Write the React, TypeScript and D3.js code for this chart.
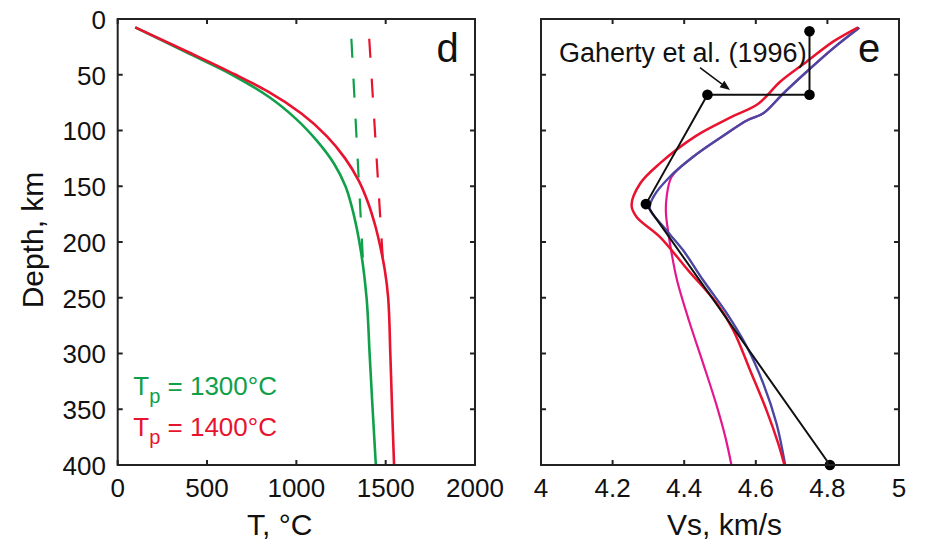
import React from "react";
import * as d3 from "d3";

// ---------- data ----------
const tempTicks = [0, 500, 1000, 1500, 2000];
const depthTicks = [0, 50, 100, 150, 200, 250, 300, 350, 400];
const vsTicks = [4, 4.2, 4.4, 4.6, 4.8, 5];
const vsTickLabels = ["4", "4.2", "4.4", "4.6", "4.8", "5"];

// geotherms: [T (°C), depth (km)]
const geothermTp1300: [number, number][] = [
  [98, 7.5], [385, 30], [640, 50], [847, 70], [1001, 90], [1119, 110], [1212, 130],
  [1275, 150], [1313, 170], [1341, 190], [1363, 210], [1393, 250], [1410, 300],
  [1427, 350], [1445, 400],
];
const geothermTp1400: [number, number][] = [
  [98, 7.5], [400, 30], [661, 50], [840, 65], [1030, 85], [1170, 105], [1273, 125],
  [1349, 145], [1402, 165], [1441, 185], [1471, 205], [1495, 225], [1514, 250],
  [1526, 300], [1536, 350], [1547, 400],
];
// adiabats (dashed)
const adiabat1300: [number, number][] = [[1308, 17.7], [1375, 223]];
const adiabat1400: [number, number][] = [[1408, 17.7], [1487, 223]];

// Vs profiles: [Vs (km/s), depth (km)]
const vsRed: [number, number][] = [
  [4.886, 7.5], [4.816, 20.3], [4.742, 38.3], [4.668, 56.3], [4.607, 76], [4.528, 88.5],
  [4.432, 105], [4.332, 129.5], [4.277, 147.5], [4.253, 167], [4.267, 177.5], [4.332, 195.4],
  [4.41, 225], [4.491, 255], [4.537, 279], [4.584, 315], [4.63, 351], [4.663, 381], [4.68, 400],
];
const vsBlue: [number, number][] = [
  [4.889, 7.8], [4.816, 26.3], [4.742, 47.3], [4.677, 66.7], [4.621, 84.6], [4.575, 91],
  [4.508, 105], [4.425, 123.6], [4.36, 141.5], [4.314, 159.5], [4.304, 170], [4.342, 186.4],
  [4.397, 207.4], [4.453, 234.3], [4.519, 264], [4.575, 294], [4.621, 327], [4.658, 363],
  [4.682, 400],
];
const vsMagenta: [number, number][] = [
  [4.889, 7.8], [4.816, 26.3], [4.742, 47.3], [4.677, 66.7], [4.621, 84.6], [4.575, 91],
  [4.508, 105], [4.425, 123.6], [4.365, 141.5], [4.351, 159.5], [4.349, 174], [4.356, 192.4],
  [4.365, 210.3], [4.38, 234.3], [4.413, 270.2], [4.453, 309], [4.489, 345], [4.515, 375],
  [4.532, 400],
];
const gaherty: [number, number][] = [
  [4.75, 11], [4.75, 68], [4.465, 68], [4.293, 166], [4.807, 400],
];
const gahertyLabel = "Gaherty et al. (1996)";
const arrowFrom: [number, number] = [4.444, 43.7];
const arrowTo: [number, number] = [4.528, 63.7];

// ---------- styles ----------
const GREEN = "#10a04a";
const RED = "#e8132f";
const BLUE = "#4a47a3";
const MAGENTA = "#e3188e";
const AXIS = "#222";
const FONT = "'Liberation Sans', Arial, Helvetica, sans-serif";

const top = 19, bottom = 465;
const lx0 = 117.7, lx1 = 475;
const rx0 = 541, rx1 = 899;
const TICK = 5;

export default function App() {
  const y = d3.scaleLinear().domain([0, 400]).range([top, bottom]);
  const xT = d3.scaleLinear().domain([0, 2000]).range([lx0, lx1]);
  const xV = d3.scaleLinear().domain([4, 5]).range([rx0, rx1]);

  const lineT = d3.line<[number, number]>().x(d => xT(d[0])).y(d => y(d[1])).curve(d3.curveMonotoneY);
  const lineTlin = d3.line<[number, number]>().x(d => xT(d[0])).y(d => y(d[1]));
  const lineV = d3.line<[number, number]>().x(d => xV(d[0])).y(d => y(d[1])).curve(d3.curveCatmullRom.alpha(0.5));
  const lineVlin = d3.line<[number, number]>().x(d => xV(d[0])).y(d => y(d[1]));

  // arrow head
  const ax0 = xV(arrowFrom[0]), ay0 = y(arrowFrom[1]);
  const ax1 = xV(arrowTo[0]), ay1 = y(arrowTo[1]);
  const ang = Math.atan2(ay1 - ay0, ax1 - ax0);
  const hl = 10, hw = 4;
  const bx = ax1 - hl * Math.cos(ang), by = ay1 - hl * Math.sin(ang);
  const head = [
    [ax1, ay1],
    [bx + hw * Math.sin(ang), by - hw * Math.cos(ang)],
    [bx - hw * Math.sin(ang), by + hw * Math.cos(ang)],
  ].map(p => p.join(",")).join(" ");

  const frame = (x0: number, x1: number, xs: number[], xScale: (v: number) => number) => (
    <g>
      <rect x={x0} y={top} width={x1 - x0} height={bottom - top} fill="none" stroke={AXIS} strokeWidth={2} />
      {xs.map((v, i) => (
        <g key={"x" + i}>
          <line x1={xScale(v)} x2={xScale(v)} y1={bottom} y2={bottom - TICK} stroke={AXIS} strokeWidth={2} />
          <line x1={xScale(v)} x2={xScale(v)} y1={top} y2={top + TICK} stroke={AXIS} strokeWidth={2} />
        </g>
      ))}
      {depthTicks.map((v, i) => (
        <g key={"y" + i}>
          <line x1={x0} x2={x0 + TICK} y1={y(v)} y2={y(v)} stroke={AXIS} strokeWidth={2} />
          <line x1={x1} x2={x1 - TICK} y1={y(v)} y2={y(v)} stroke={AXIS} strokeWidth={2} />
        </g>
      ))}
    </g>
  );

  return (
    <svg width={948} height={541} style={{ position: "absolute", left: 0, top: 0, background: "#fff" }} fontFamily={FONT}>
      <rect x={0} y={0} width={948} height={541} fill="#fff" />

      {/* ---------- left panel ---------- */}
      <path d={lineTlin(adiabat1300) || ""} fill="none" stroke={GREEN} strokeWidth={2.2} strokeDasharray="19,21" />
      <path d={lineTlin(adiabat1400) || ""} fill="none" stroke={RED} strokeWidth={2.2} strokeDasharray="19,21" />
      <path d={lineT(geothermTp1300) || ""} fill="none" stroke={GREEN} strokeWidth={2.6} />
      <path d={lineT(geothermTp1400) || ""} fill="none" stroke={RED} strokeWidth={2.6} />
      {frame(lx0, lx1, tempTicks, xT)}
      {tempTicks.map((v, i) => (
        <text key={i} x={xT(v)} y={497} fontSize={26} textAnchor="middle" fill="#111">{v}</text>
      ))}
      {depthTicks.map((v, i) => (
        <text key={i} x={106} y={y(v)} dy="0.38em" fontSize={26} textAnchor="end" fill="#111">{v}</text>
      ))}
      <text x={247} y={535} fontSize={30} fill="#111">T, °C</text>
      <text transform={`translate(43,240) rotate(-90)`} fontSize={30} textAnchor="middle" fill="#111">Depth, km</text>
      <text x={436.5} y={61.7} fontSize={40} fill="#111">d</text>
      <text x={133.3} y={395} fontSize={26} fill={GREEN}>
        T<tspan fontSize={20} dy={7.7}>p</tspan><tspan dy={-7.7}> = 1300°C</tspan>
      </text>
      <text x={133.3} y={436} fontSize={26} fill={RED}>
        T<tspan fontSize={20} dy={7.7}>p</tspan><tspan dy={-7.7}> = 1400°C</tspan>
      </text>

      {/* ---------- right panel ---------- */}
      <path d={lineV(vsMagenta) || ""} fill="none" stroke={MAGENTA} strokeWidth={2.2} />
      <path d={lineV(vsBlue) || ""} fill="none" stroke={BLUE} strokeWidth={2.4} />
      <path d={lineV(vsRed) || ""} fill="none" stroke={RED} strokeWidth={2.5} />
      <path d={lineVlin(gaherty) || ""} fill="none" stroke="#111" strokeWidth={2} />
      {gaherty.map((p, i) => (
        <circle key={i} cx={xV(p[0])} cy={y(p[1])} r={5.3} fill="#000" />
      ))}
      <line x1={ax0} y1={ay0} x2={bx} y2={by} stroke="#111" strokeWidth={1.6} />
      <polygon points={head} fill="#111" />
      <text x={559} y={61.7} fontSize={27} fill="#111">{gahertyLabel}</text>
      {frame(rx0, rx1, vsTicks, xV)}
      {vsTicks.map((v, i) => (
        <text key={i} x={xV(v)} y={497} fontSize={26} textAnchor="middle" fill="#111">{vsTickLabels[i]}</text>
      ))}
      <text x={667} y={535} fontSize={30} fill="#111">Vs, km/s</text>
      <text x={858} y={62} fontSize={40} fill="#111">e</text>
    </svg>
  );
}
